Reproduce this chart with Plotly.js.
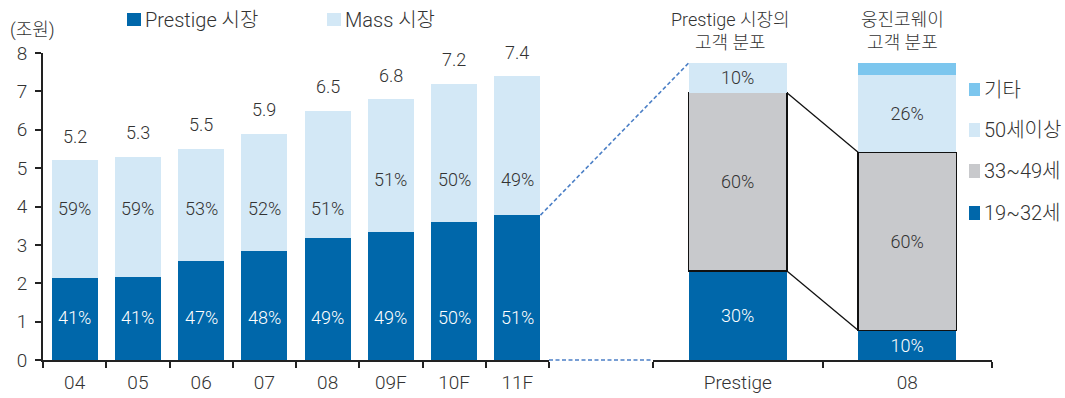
<!DOCTYPE html>
<html>
<head>
<meta charset="utf-8">
<script src="https://cdn.plot.ly/plotly-3.0.1.min.js"></script>
<style>
  html, body { margin: 0; padding: 0; background: #fff; }
  #chart { width: 1065px; height: 398px; }
</style>
</head>
<body>
<div id="chart"></div>
<script>
// Market size by year (trillion won) and Prestige / Mass split (%)
const years = ['04', '05', '06', '07', '08', '09F', '10F', '11F'];
const totals = [5.2, 5.3, 5.5, 5.9, 6.5, 6.8, 7.2, 7.4];
const prestigeShare = [41, 41, 47, 48, 49, 49, 50, 51];
const massShare = [59, 59, 53, 52, 51, 51, 50, 49];

// Customer age distribution (%)
const groups = ['Prestige', '08'];
const age1932 = [30, 10];
const age3349 = [60, 60];
const age50 = [10, 26];
const ageEtc = [0, 4];

const prestigeVal = totals.map((t, i) => t * prestigeShare[i] / 100);
const massVal = totals.map((t, i) => t - prestigeVal[i]);

const W = 1065, H = 398;
const C_DARK = '#0067aa', C_LIGHT = '#d3e8f6', C_GRAY = '#c8c9cc', C_ETC = '#7cc6ee';
const TXT = '#333333';
const FONT = "Roboto, 'Noto Sans CJK KR', sans-serif";

// pixel -> paper helpers (margins are zero, so paper == figure)
const pxX = p => p / W;
const pxY = p => 1 - p / H;

const yDom = [pxY(360), pxY(53)];
const xDom = [pxX(43), pxX(549)];
const x2Dom = [pxX(653), pxX(992)];
const yRange = [0, 8];
const y2Range = [0, 103.4];
const xRange = [-0.5, years.length - 0.5];
const x2Range = [-0.5, groups.length - 0.5];
const LW = 0.73, RW = 0.58;

const toPaper = (dom, rng, v) => dom[0] + (v - rng[0]) / (rng[1] - rng[0]) * (dom[1] - dom[0]);

const segFont = (color) => ({ color: color, size: 18, family: FONT, weight: 300 });

const traces = [
  { type: 'bar', x: years, y: prestigeVal, width: LW, marker: { color: C_DARK },
    xaxis: 'x', yaxis: 'y', name: 'Prestige 시장', showlegend: false },
  { type: 'bar', x: years, y: massVal, width: LW, marker: { color: C_LIGHT },
    xaxis: 'x', yaxis: 'y', name: 'Mass 시장', showlegend: false },
  { type: 'bar', x: groups, y: age1932, width: RW, marker: { color: C_DARK },
    text: age1932.map(v => v + '%'), textposition: 'inside', insidetextanchor: 'middle',
    textfont: segFont('#ffffff'), constraintext: 'none',
    xaxis: 'x2', yaxis: 'y2', name: '19~32세', showlegend: false },
  { type: 'bar', x: groups, y: age3349, width: RW,
    marker: { color: C_GRAY, line: { color: '#111111', width: 1.3 } },
    text: age3349.map(v => v + '%'), textposition: 'inside', insidetextanchor: 'middle',
    textfont: segFont(TXT), constraintext: 'none',
    xaxis: 'x2', yaxis: 'y2', name: '33~49세', showlegend: false },
  { type: 'bar', x: groups, y: age50, width: RW, marker: { color: C_LIGHT },
    text: age50.map(v => v + '%'), textposition: 'inside', insidetextanchor: 'middle',
    textfont: segFont(TXT), constraintext: 'none',
    xaxis: 'x2', yaxis: 'y2', name: '50세이상', showlegend: false },
  { type: 'bar', x: groups, y: ageEtc, width: RW, marker: { color: C_ETC },
    xaxis: 'x2', yaxis: 'y2', name: '기타', showlegend: false }
];

const annotations = [];
const ann = (o) => annotations.push(Object.assign({ showarrow: false,
  xanchor: 'center', yanchor: 'middle',
  font: { family: FONT, size: 18, color: TXT, weight: 300 } }, o));

// totals above the bars, shares inside the segments (x given as category index)
years.forEach((yr, i) => {
  ann({ xref: 'x', yref: 'y', x: i, y: totals[i], yshift: 24, text: totals[i].toFixed(1) });
  ann({ xref: 'x', yref: 'y', x: i, y: 1.1, text: prestigeShare[i] + '%',
        font: { family: FONT, size: 18, color: '#ffffff', weight: 300 } });
  ann({ xref: 'x', yref: 'y', x: i, y: i < 5 ? 3.95 : 4.7, text: massShare[i] + '%' });
});

// unit label
ann({ xref: 'paper', yref: 'paper', x: pxX(32), y: pxY(30), text: '(조원)' });

// panel titles
ann({ xref: 'x2', yref: 'paper', x: 0, xshift: -7, y: pxY(31), text: 'Prestige 시장의<br>고객 분포' });
ann({ xref: 'x2', yref: 'paper', x: 1, xshift: -5, y: pxY(31), text: '웅진코웨이<br>고객 분포' });

// legend entries
const legendItems = [
  { sq: [127, 13, 141, 26], color: C_DARK, tx: 143, ty: 19.5, text: 'Prestige 시장' },
  { sq: [327, 13, 341, 26], color: C_LIGHT, tx: 343, ty: 19.5, text: 'Mass 시장' },
  { sq: [969, 83, 980, 96], color: C_ETC, tx: 982, ty: 89.5, text: '기타' },
  { sq: [969, 123, 980, 137], color: C_LIGHT, tx: 982, ty: 130, text: '50세이상' },
  { sq: [969, 164, 980, 178], color: C_GRAY, tx: 982, ty: 171, text: '33~49세' },
  { sq: [969, 206, 980, 220], color: C_DARK, tx: 982, ty: 213, text: '19~32세' }
];

const shapes = [];
legendItems.forEach(it => {
  shapes.push({ type: 'rect', xref: 'paper', yref: 'paper',
    x0: pxX(it.sq[0]), x1: pxX(it.sq[2]), y0: pxY(it.sq[1]), y1: pxY(it.sq[3]),
    fillcolor: it.color, line: { width: 0 } });
  ann({ xref: 'paper', yref: 'paper', x: pxX(it.tx), y: pxY(it.ty), xanchor: 'left',
        text: it.text, font: { family: FONT, size: 20, color: TXT, weight: 300 } });
});

// zoom-out guide from the 11F Prestige segment to the distribution bar
const last = years.length - 1;
const DASH = { color: '#4b7fc6', width: 1.6, dash: '4px,2.5px' };
shapes.push({ type: 'line', xref: 'paper', yref: 'paper', layer: 'above',
  x0: toPaper(xDom, xRange, last + LW / 2), y0: toPaper(yDom, yRange, prestigeVal[last]),
  x1: toPaper(x2Dom, x2Range, 0 - RW / 2), y1: toPaper(yDom, y2Range, 100),
  line: DASH });
shapes.push({ type: 'line', xref: 'paper', yref: 'paper', layer: 'above',
  x0: xDom[1], y0: yDom[0], x1: x2Dom[0], y1: yDom[0], line: DASH });

// connectors between the 33~49 segments of the two distribution bars
const topA = age1932[0] + age3349[0], topB = age1932[1] + age3349[1];
[[topA, topB], [age1932[0], age1932[1]]].forEach(([a, b]) => {
  shapes.push({ type: 'line', xref: 'paper', yref: 'paper', layer: 'above',
    x0: toPaper(x2Dom, x2Range, 0 + RW / 2), y0: toPaper(yDom, y2Range, a),
    x1: toPaper(x2Dom, x2Range, 1 - RW / 2), y1: toPaper(yDom, y2Range, b),
    line: { color: '#111111', width: 1.3 } });
});

const axisCommon = {
  showline: true, linecolor: '#222222', linewidth: 2,
  ticks: 'outside', ticklen: 6, tickwidth: 2, tickcolor: '#222222',
  showgrid: false, zeroline: false, fixedrange: true,
  tickfont: { family: FONT, size: 19, color: TXT, weight: 300 }
};

const layout = {
  width: W, height: H,
  margin: { l: 0, r: 0, t: 0, b: 0, pad: 0, autoexpand: false },
  paper_bgcolor: '#ffffff', plot_bgcolor: 'rgba(0,0,0,0)',
  barmode: 'stack', showlegend: false,
  font: { family: FONT, color: TXT },
  xaxis: Object.assign({}, axisCommon, { domain: xDom, anchor: 'y', type: 'category',
    range: xRange, tickson: 'boundaries', ticklabelstandoff: 4 }),
  yaxis: Object.assign({}, axisCommon, { domain: yDom, anchor: 'x', range: yRange,
    dtick: 1, tick0: 0, ticklabelstandoff: 4 }),
  xaxis2: Object.assign({}, axisCommon, { domain: x2Dom, anchor: 'y2', type: 'category',
    range: x2Range, tickson: 'boundaries', ticklabelstandoff: 4 }),
  yaxis2: { domain: yDom, anchor: 'x2', range: y2Range, visible: false, fixedrange: true },
  annotations: annotations,
  shapes: shapes
};

Plotly.newPlot('chart', traces, layout, { staticPlot: true, displayModeBar: false });
</script>
</body>
</html>
